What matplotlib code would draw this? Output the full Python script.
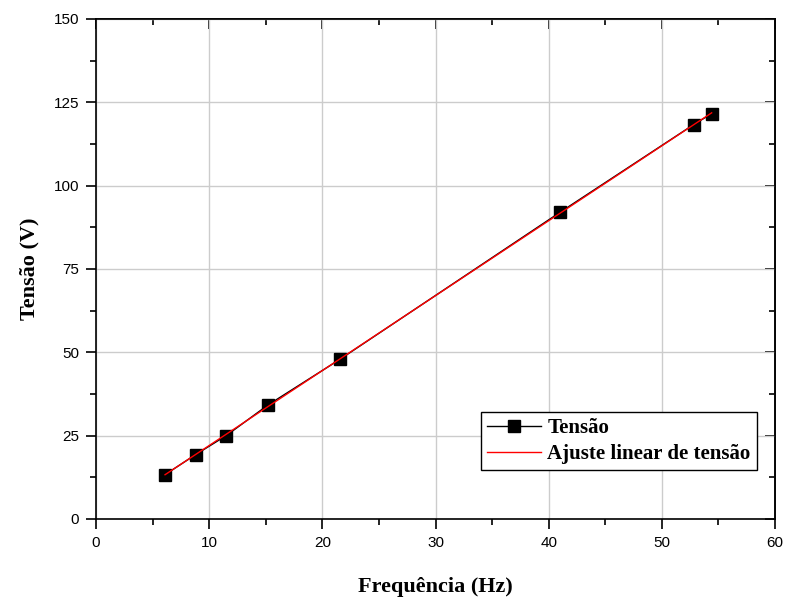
import numpy as np
import matplotlib.pyplot as plt
from matplotlib.ticker import MultipleLocator

# Measured frequency / voltage pairs
freq = [6.1, 8.8, 11.5, 15.2, 21.6, 41.0, 52.8, 54.4]
tensao = [13.3, 19.3, 25.0, 34.2, 48.0, 92.0, 118.3, 121.6]

# Linear fit of voltage vs frequency
slope, intercept = np.polyfit(freq, tensao, 1)
fit_x = np.linspace(min(freq), max(freq), 50)
fit_y = slope * fit_x + intercept

serif = 'Liberation Serif'
tickfont = 'Liberation Sans'

fig = plt.figure(figsize=(7.85, 5.99), dpi=100)
ax = fig.add_axes([0.1223, 0.1336, 0.865, 0.8347])

ax.plot(freq, tensao, color='black', linewidth=1, marker='s', markersize=8,
        label='Tensão', zorder=3)
ax.plot(fit_x, fit_y, color='red', linewidth=1, label='Ajuste linear de tensão', zorder=4)

ax.set_xlim(0, 60)
ax.set_ylim(0, 150)
ax.xaxis.set_major_locator(MultipleLocator(10))
ax.xaxis.set_minor_locator(MultipleLocator(5))
ax.yaxis.set_major_locator(MultipleLocator(25))
ax.yaxis.set_minor_locator(MultipleLocator(12.5))
ax.grid(True, which='major', color='#cccccc', linewidth=1)
ax.set_axisbelow(True)

ax.tick_params(which='both', direction='out', top=False, right=False, width=1.2)
ax.tick_params(which='major', length=7, pad=5)
ax.tick_params(which='minor', length=4)
for lab in ax.get_xticklabels() + ax.get_yticklabels():
    lab.set_fontfamily(tickfont)
    lab.set_fontsize(11)

# inward ticks on the top and right edges
for side in ('top', 'right'):
    twin = ax.secondary_xaxis('top') if side == 'top' else ax.secondary_yaxis('right')
    axis = twin.xaxis if side == 'top' else twin.yaxis
    axis.set_major_locator(MultipleLocator(10 if side == 'top' else 25))
    axis.set_minor_locator(MultipleLocator(5 if side == 'top' else 12.5))
    twin.tick_params(which='both', direction='in', labelsize=0, width=1.2)
    twin.tick_params(which='major', length=7)
    twin.tick_params(which='minor', length=4)
    axis.set_ticklabels([])
    for sp in twin.spines.values():
        sp.set_linewidth(1.2)

for sp in ax.spines.values():
    sp.set_linewidth(1.2)

ax.set_xlabel('Frequência (Hz)', fontfamily=serif, fontsize=16, fontweight='bold', labelpad=20)
ax.set_ylabel('Tensão (V)', fontfamily=serif, fontsize=16, fontweight='bold', labelpad=10)

leg = ax.legend(loc='lower right', bbox_to_anchor=(0.973, 0.097),
                prop={'family': serif, 'weight': 'bold', 'size': 15},
                frameon=True, fancybox=False, edgecolor='black',
                handlelength=2.6, borderpad=0.3, labelspacing=0.3,
                handletextpad=0.3, borderaxespad=0)
leg.get_frame().set_linewidth(1)
leg.get_frame().set_alpha(1)

fig.savefig('out.png', dpi=100)
